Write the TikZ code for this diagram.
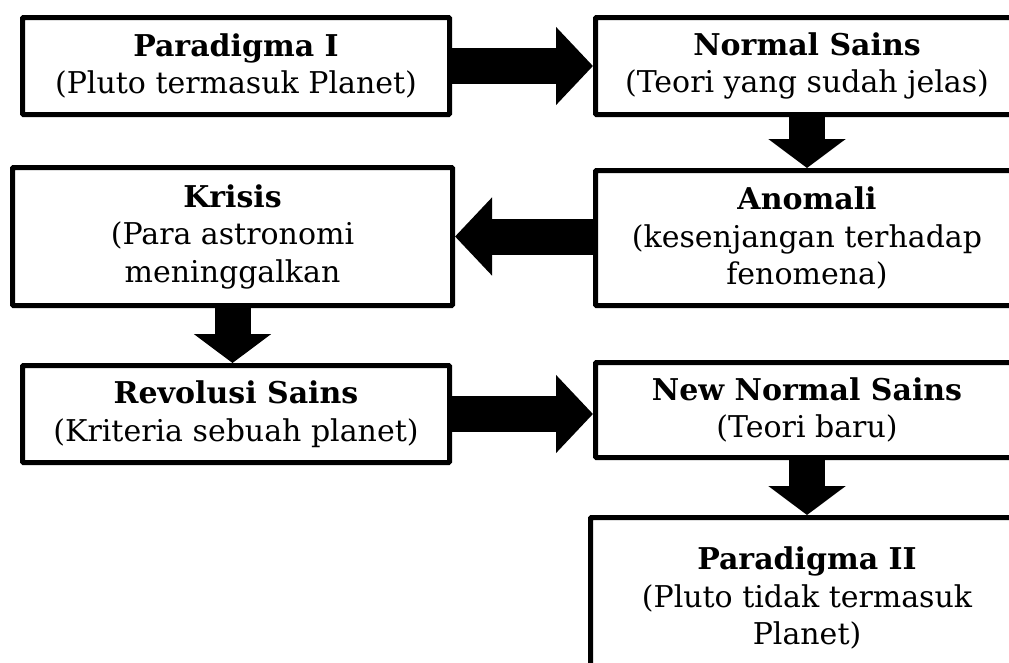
\documentclass[tikz,border=0pt]{standalone}
\usepackage{fontspec}
\setmainfont{DejaVu Serif}
\usetikzlibrary{arrows.meta}
\begin{document}
\begin{tikzpicture}[x=1pt,y=-1pt,
  box/.style={draw=black,line width=5pt,fill=white,rectangle,inner sep=0pt,align=center,
    font=\fontsize{30}{37.5}\selectfont,rounded corners=1pt},
  harrow/.style={line width=36pt,-{Triangle[length=37pt,width=76pt]}},
  varrow/.style={line width=36pt,-{Triangle[length=29pt,width=76pt]}}]
\useasboundingbox (0,0) rectangle (1009,662);
\clip (0,0) rectangle (1009,662);
\node[box,minimum width=427pt,minimum height=97pt] (p1) at (236,66) {\textbf{Paradigma I}\\(Pluto termasuk Planet)};
\node[box,minimum width=423pt,minimum height=97pt] (ns) at (807,66) {\textbf{Normal Sains}\\(Teori yang sudah jelas)};
\node[box,minimum width=423pt,minimum height=135pt] (an) at (807,238) {\textbf{Anomali}\\(kesenjangan terhadap\\fenomena)};
\node[box,minimum width=440pt,minimum height=138pt] (kr) at (232.5,236.5) {\textbf{Krisis}\\(Para astronomi\\meninggalkan};
\node[box,minimum width=427pt,minimum height=97pt] (rs) at (236,414) {\textbf{Revolusi Sains}\\(Kriteria sebuah planet)};
\node[box,minimum width=423pt,minimum height=95pt] (nn) at (807,410) {\textbf{New Normal Sains}\\(Teori baru)};
\node[box,minimum width=433pt,minimum height=161pt] (p2) at (807,598) {\textbf{Paradigma II}\\(Pluto tidak termasuk\\Planet)};
\draw[harrow] (p1.east) -- (ns.west);
\draw[varrow] (ns.south) -- (an.north);
\draw[harrow] (an.west |- kr.east) -- (kr.east);
\draw[varrow] (kr.south) -- (kr.south |- rs.north);
\draw[harrow] (rs.east) -- (rs.east -| nn.west);
\draw[varrow] (nn.south) -- (p2.north);
\end{tikzpicture}
\end{document}
